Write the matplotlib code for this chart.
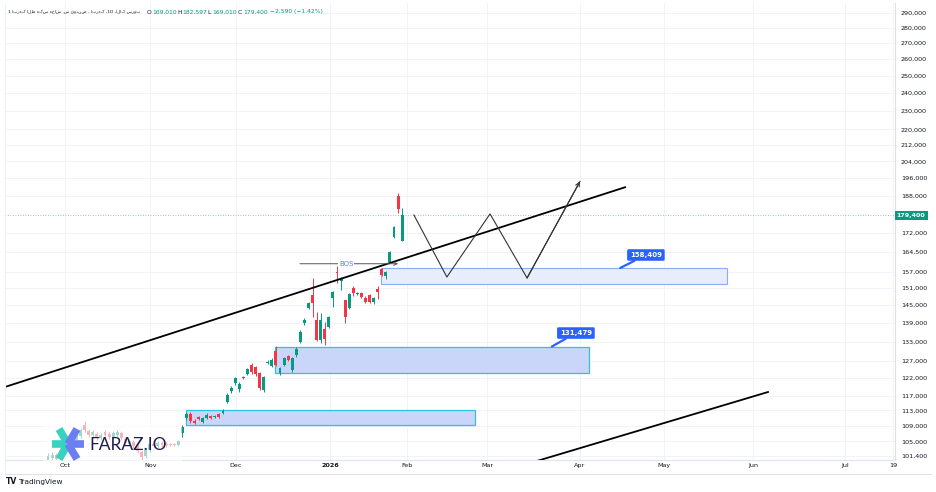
import numpy as np
import matplotlib
matplotlib.use("Agg")
import matplotlib.pyplot as plt
from matplotlib.patches import Rectangle
from matplotlib.lines import Line2D
from matplotlib.ticker import FixedLocator, NullLocator, FuncFormatter

# daily candles (Kahroba gold fund), early Oct -> end of Jan
opens = [100450, 100930, 101650, 100930, 102860, 104090, 103350, 105330, 106340, 109140,
         107600, 106590, 106840, 105840, 107350, 106840, 106090, 106590, 107100, 105580,
         104340, 104830, 103840, 102370, 101410, 102860, 104340, 103840, 104580, 104340,
         104340, 104340, 104090, 107100, 110970, 112030, 110190, 111230, 109920, 110970,
         111500, 111230, 112030, 112300, 115260, 118310, 120580, 118870, 122310, 123180,
         125830, 125230, 123470, 118590, 126430, 125530, 130080, 123470, 125830, 128550,
         124350, 128860, 132890, 139020, 144050, 148560, 140010, 133520, 137050, 137710,
         147510, 156890, 153570, 146810, 144050, 151040, 148910, 149270, 147510, 148560,
         146120, 150690, 158010, 155410, 160660, 170470, 187890, 169010]
highs = [102130, 102370, 102130, 103350, 104830, 104580, 106090, 107100, 108370, 110190,
         108110, 107860, 107350, 107100, 107860, 107350, 107600, 107860, 107600, 106090,
         105580, 105330, 104340, 102860, 103350, 104830, 104830, 105080, 105080, 104830,
         104580, 104580, 105330, 109140, 112560, 112560, 110710, 111500, 111230, 112300,
         111760, 111760, 112300, 113370, 117740, 119730, 122310, 120860, 122600, 124940,
         126430, 125530, 123760, 122600, 127340, 127940, 131640, 125230, 128250, 128860,
         128250, 131330, 136730, 140680, 146120, 154670, 142690, 142360, 139350, 141350,
         149970, 159140, 155040, 146810, 149270, 151770, 149620, 149620, 148210, 148910,
         147860, 151770, 158390, 157260, 164900, 174970, 189230, 182597]
lows = [99970, 100450, 100210, 100450, 102370, 102610, 102860, 104830, 105840, 107350,
        106090, 106090, 105330, 105330, 106090, 105580, 105580, 106090, 105330, 104090,
        103840, 103350, 102130, 100450, 100930, 102370, 103350, 103350, 103600, 103600,
        103840, 103840, 103840, 106090, 110450, 109660, 109400, 110450, 109660, 110710,
        110710, 110970, 110970, 112030, 114990, 117740, 120010, 118030, 121730, 122890,
        123180, 122600, 118590, 118030, 126130, 125230, 125530, 122890, 125530, 127040,
        123760, 128250, 132580, 138360, 143710, 141010, 133200, 132580, 131950, 137380,
        144390, 152850, 150330, 139020, 143710, 148210, 148560, 147510, 145770, 145770,
        145420, 147160, 155410, 154300, 160280, 170060, 180270, 169010]
closes = [101410, 101650, 100690, 102860, 104090, 103350, 105330, 106340, 107860, 107860,
          106590, 107350, 105840, 106590, 106590, 106090, 107100, 107350, 105840, 104580,
          105080, 103840, 102610, 101170, 102860, 104340, 103840, 104580, 104090, 104090,
          104090, 104090, 105080, 108630, 112030, 110190, 109660, 110710, 110970, 111760,
          110970, 111500, 111230, 112830, 117190, 119150, 122020, 120290, 122020, 124640,
          123760, 123180, 119150, 122310, 126730, 127340, 125830, 124940, 127940, 127340,
          127940, 130700, 136080, 140010, 145770, 145770, 133520, 140010, 133840, 141010,
          149620, 156520, 154300, 141010, 148910, 149270, 149270, 147860, 146120, 146120,
          147510, 149620, 155780, 156890, 164510, 174550, 181990, 179400]

# axis ticks
price_ticks = [101400, 105000, 109000, 113000, 117000, 122000, 127000, 133000, 139000,
               145000, 151000, 157000, 164500, 172000, 188000, 196000, 204000, 212000,
               220000, 230000, 240000, 250000, 260000, 270000, 280000, 290000]
time_ticks = [4.2, 25.1, 46.2, 69.3, 88.2, 107.9, 130.7, 151.4, 173.2, 195.8, 207.6]
time_labels = ["Oct", "Nov", "Dec", "2026", "Feb", "Mar", "Apr", "May", "Jun", "Jul", "19"]

# drawings
channel_top_x = [-10.6, 141.8]
channel_top_y = [119440, 191840]
channel_low_x = [120.1, 176.9]
channel_low_y = [100210, 118030]
path_x = [89.9, 98.0, 108.6, 117.7, 130.7]
path_y = [179600, 155040, 180080, 154670, 194480]
bos_x = [61.9, 86.0]
bos_level = 160000
# zones: x start, x end, top, bottom
zone_light = (81.8, 166.8, 158409, 152500)
zones = [(55.8, 132.9, 131479, 123470), (33.9, 104.9, 113100, 109140)]
callouts = [(158409, 140.6, 146.9, 163350), (131479, 123.8, 129.7, 135750)]
last_price = 179400

GREEN = "#089981"
RED = "#f23645"
W, H = 936, 492


def px(x, y):
    return x / W, 1 - y / H


fig = plt.figure(figsize=(W / 100, H / 100), dpi=100)
ax = fig.add_axes([5 / W, 32 / H, 890 / W, 457 / H])
ax.set_yscale("log")
ax.set_xlim(-10.57, 208.1)
ax.set_ylim(100450, 296960)

# grid
for t in price_ticks:
    ax.axhline(t, color="#f0f3fa", lw=0.7, zorder=0)
for t in time_ticks:
    ax.axvline(t, color="#f0f3fa", lw=0.7, zorder=0)

# candles
x = np.arange(len(opens))
o = np.array(opens, float)
c = np.array(closes, float)
up = c >= o
cols = np.where(up, GREEN, RED)
ax.vlines(x, lows, highs, colors=cols, lw=0.7, zorder=3)
body = np.maximum(np.abs(c - o), o * 0.0018)
ax.bar(x, body, bottom=np.minimum(o, c), width=0.72, color=cols, zorder=3)

# zones
x0, x1, top, bot = zone_light
ax.add_patch(Rectangle((x0, bot), x1 - x0, top - bot, facecolor="#e8edfd",
                       edgecolor="#91aaf5", lw=0.8, zorder=2))
for x0, x1, top, bot in zones:
    ax.add_patch(Rectangle((x0, bot), x1 - x0, top - bot, facecolor="#c9d6fa",
                           edgecolor="#2cc3dc", lw=0.9, zorder=2))

# trend lines and projected path
ax.plot(channel_top_x, channel_top_y, color="black", lw=1.3, zorder=4)
ax.plot(channel_low_x, channel_low_y, color="black", lw=1.3, zorder=4)
ax.plot(path_x, path_y, color="#333333", lw=0.8, zorder=4)
ax.annotate("", xy=(path_x[-1], path_y[-1]), xytext=(path_x[-2], path_y[-2]),
            arrowprops=dict(arrowstyle="->", color="#333333", lw=0.8,
                            mutation_scale=7, shrinkA=0, shrinkB=0), zorder=4)

# BOS
ax.annotate("", xy=(bos_x[1], bos_level), xytext=(bos_x[0], bos_level),
            arrowprops=dict(arrowstyle="->", color="#555555", lw=0.7,
                            mutation_scale=6, shrinkA=0, shrinkB=0), zorder=4)
ax.text(sum(bos_x) / 2 - 0.7, bos_level, "BOS", color="#5a7cf6", fontsize=5,
        ha="center", va="center", zorder=5,
        bbox=dict(boxstyle="square,pad=0.15", fc="white", ec="none"))

# last price line + label
ax.axhline(last_price, color="#5cc3b3", lw=0.6, ls=(0, (1, 2)), zorder=1)
ax.text(1.002, last_price, "179,400", transform=ax.get_yaxis_transform(),
        color="white", fontsize=4.6, fontweight="bold", ha="left", va="center",
        bbox=dict(boxstyle="square,pad=0.35", fc=GREEN, ec="none"), zorder=6,
        clip_on=False)

# price callouts
for val, ax_x, tx, ty in callouts:
    ax.annotate(f"{val:,}", xy=(ax_x, val), xytext=(tx, ty), color="white",
                fontsize=5, fontweight="bold", ha="center", va="center",
                bbox=dict(boxstyle="round,pad=0.4,rounding_size=0.2", fc="#2962ff", ec="none"),
                arrowprops=dict(arrowstyle="-", color="#2962ff", lw=1.6,
                                shrinkA=0, shrinkB=0), zorder=6)

# axes styling
ax.yaxis.tick_right()
ax.yaxis.set_major_locator(FixedLocator(price_ticks))
ax.yaxis.set_minor_locator(NullLocator())
ax.yaxis.set_major_formatter(FuncFormatter(lambda v, p: f"{v:,.0f}"))
ax.set_xticks(time_ticks)
ax.set_xticklabels(time_labels)
for lab in ax.get_xticklabels():
    if lab.get_text() == "2026":
        lab.set_fontweight("bold")
ax.tick_params(axis="y", length=0, pad=4.3, labelsize=4.6, labelcolor="#131722")
ax.tick_params(axis="x", length=0, pad=2.5, labelsize=4.6, labelcolor="#131722")
for s in ["top", "left"]:
    ax.spines[s].set_visible(False)
for s in ["right", "bottom"]:
    ax.spines[s].set_color("#e0e3eb")
    ax.spines[s].set_linewidth(0.8)

# frame lines
fig.add_artist(Line2D([px(5, 0)[0], px(931, 0)[0]], [px(0, 474)[1]] * 2,
                      color="#e0e3eb", lw=0.8))
fig.add_artist(Line2D([px(5, 0)[0]] * 2, [px(0, 3)[1], px(0, 474)[1]],
                      color="#eef0f4", lw=0.8))

# faded area under the logo
fig.add_artist(Rectangle(px(44, 462), 138 / W, 43 / H, transform=fig.transFigure,
                         facecolor="white", alpha=0.62, edgecolor="none", zorder=5))

# FARAZ.IO logo
cx, cy = 68, 444
for dx, dy, col in [(-16, 0, "#37d3bf"), (-9, -15, "#37d3bf"), (-9, 15, "#37d3bf"),
                    (16, 0, "#6c7ff2"), (9, -15, "#6c7ff2"), (9, 15, "#6c7ff2")]:
    a, b = px(cx, cy), px(cx + dx, cy + dy)
    fig.add_artist(Line2D([a[0], b[0]], [a[1], b[1]], color=col, lw=5.5,
                          solid_capstyle="butt", zorder=6))
fig.text(*px(89, 445), "FARAZ.IO", fontsize=12.5, family="Lato",
         color="#1e1c4b", ha="left", va="center", zorder=7)

# header (symbol + OHLC)
symbol_fa = "کهربا - صندوق س. شاخه سکه طلا کهربا 1"
exchange_fa = "بورس کالا"
# matplotlib has no bidi support, so right-to-left text is reversed for display
title = fig.text(*px(8, 12), symbol_fa[::-1] + " ,1D ," + exchange_fa[::-1],
                 fontsize=4.3, color="#131722", va="center", ha="left",
                 family="DejaVu Sans")
renderer = fig.canvas.get_renderer()
tw = title.get_window_extent(renderer).width
if tw > 135:
    title.set_fontsize(4.3 * 135 / tw)
header = [(147, "O", "#131722"), (152, "169,010", GREEN), (177, "H", "#131722"),
          (182, "182,597", GREEN), (207, "L", "#131722"), (212, "169,010", GREEN),
          (238, "C", "#131722"), (243, "179,400", GREEN), (270, "\u22122,590 (\u22121.42%)", GREEN)]
for hx, txt, col in header:
    fig.text(*px(hx, 12), txt, fontsize=4.3, color=col, va="center", ha="left")

# TradingView mark
fig.text(*px(6, 482), "TV", fontsize=5.5, fontweight="bold", color="#131722", va="center")
fig.text(*px(18, 482), "TradingView", fontsize=5.3, color="#131722", va="center")

fig.savefig("out.png", dpi=100, facecolor="white")
